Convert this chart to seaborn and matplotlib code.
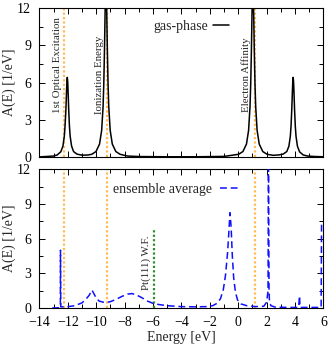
import numpy as np
import pandas as pd
import matplotlib
matplotlib.use("Agg")
import matplotlib.pyplot as plt
import seaborn as sns
from matplotlib.ticker import MultipleLocator

# ---------------- data ----------------
# gas-phase spectral function (top panel)
gas_E = [-14.0, -13.0, -12.75, -12.5, -12.35, -12.25, -12.2, -12.14, -12.1, -12.07, -12.04,
         -12.01, -11.98, -11.94, -11.89, -11.84, -11.74, -11.6, -11.35, -11.0, -10.6,
         -10.32, -10.02, -9.77, -9.62, -9.52, -9.47, -9.42, -9.38, -9.35, -9.32,
         -9.29, -9.26, -9.22, -9.17, -9.12, -9.02, -8.87, -8.62, -8.32, -7.8, -7.0,
         -5.0, -3.0, -1.0, 0.03, 0.33, 0.58, 0.73, 0.83, 0.88, 0.93, 0.97, 1.0, 1.03,
         1.06, 1.09, 1.13, 1.18, 1.23, 1.33, 1.48, 1.73, 2.03, 2.45, 2.87, 3.17, 3.42,
         3.57, 3.67, 3.72, 3.77, 3.81, 3.84, 3.87, 3.90, 3.93, 3.97, 4.02, 4.07,
         4.17, 4.32, 4.57, 4.87, 5.4, 6.0]
gas_A = [0.02, 0.09, 0.18, 0.43, 0.88, 1.69, 2.50, 3.78, 5.12, 6.03, 6.42,
         6.03, 5.12, 3.78, 2.50, 1.69, 0.90, 0.45, 0.24, 0.16, 0.17,
         0.23, 0.45, 1.05, 2.16, 4.07, 5.9, 8.7, 11.5, 13.3, 14.0,
         13.3, 11.5, 8.7, 5.9, 4.07, 2.16, 1.05, 0.45, 0.23, 0.09, 0.05,
         0.03, 0.03, 0.06, 0.23, 0.45, 1.05, 2.16, 4.07, 5.9, 8.7, 11.5, 13.3, 14.0,
         13.3, 11.5, 8.7, 5.9, 4.07, 2.16, 1.05, 0.45, 0.23, 0.15, 0.18, 0.25, 0.45,
         0.88, 1.69, 2.50, 3.78, 5.12, 6.03, 6.42, 6.03, 5.12, 3.78, 2.50, 1.69,
         0.88, 0.43, 0.18, 0.09, 0.05, 0.03]

# ensemble average (bottom panel)
ens_E = [-13.1, -12.6, -12.53, -12.52, -12.5, -12.4, -12.0, -11.5, -11.0, -10.7, -10.5,
         -10.3, -10.15, -10.0, -9.8, -9.5, -9.2, -9.0, -8.6, -8.2, -7.8, -7.5, -7.2,
         -6.8, -6.4, -6.0, -5.6, -5.0, -4.0, -3.0, -2.2, -1.8, -1.5, -1.25, -1.05,
         -0.9, -0.75, -0.65, -0.58, -0.5, -0.42, -0.32, -0.2, -0.05, 0.2, 0.6, 1.2,
         1.8, 2.0, 2.1, 2.13, 2.17, 2.2, 2.3, 2.6, 3.5, 4.25, 4.32, 4.35, 4.4,
         5.0, 5.84, 5.87, 5.9, 6.0]
ens_A = [0.0, 0.02, 0.1, 5.0, 0.1, 0.1, 0.12, 0.2, 0.45, 0.8, 1.1,
         1.55, 1.2, 0.85, 0.6, 0.5, 0.5, 0.55, 0.75, 1.0, 1.2, 1.25, 1.15,
         0.9, 0.6, 0.4, 0.3, 0.2, 0.12, 0.1, 0.12, 0.2, 0.4, 0.8, 1.6,
         2.8, 4.8, 6.8, 8.25, 7.0, 4.6, 2.6, 1.4, 0.7, 0.35, 0.2, 0.12,
         0.15, 0.5, 1.5, 14.0, 1.5, 0.6, 0.2, 0.08, 0.05, 0.05, 1.05, 0.05, 0.05,
         0.05, 0.05, 7.35, 7.35, 7.35]

# reference energies (eV)
markers_E = [-12.27, -9.22, 1.15]
markers_txt = ["1st Optical Excitation", "Ionization Energy", "Electron Affinity"]
wf_E = -5.93
wf_top = 6.9
wf_txt = "Pt(111) W.F."

x_ticks = [-14, -12, -10, -8, -6, -4, -2, 0, 2, 4, 6]
y_ticks = [0, 3, 6, 9, 12]

# ---------------- styling ----------------
sns.set_theme(style="ticks")
plt.rcParams["font.family"] = "serif"
plt.rcParams["font.serif"] = ["Liberation Serif", "DejaVu Serif"]
plt.rcParams["mathtext.fontset"] = "stix"

ORANGE = "#ffbb55"
GREEN = "#2f8f2f"
BLUE = "#1010ff"

fig = plt.figure(figsize=(3.29, 3.50), dpi=100)
ax1 = fig.add_axes([0.120, 0.551, 0.863, 0.426])
ax2 = fig.add_axes([0.120, 0.120, 0.863, 0.396])

gas = pd.DataFrame({"E": gas_E, "A": gas_A})
ens = pd.DataFrame({"E": ens_E, "A": ens_A})

for ax in (ax1, ax2):
    for e in markers_E:
        ax.axvline(e, color=ORANGE, lw=1.6, linestyle=(0, (1, 1)), zorder=1)

sns.lineplot(data=gas, x="E", y="A", ax=ax1, color="black", lw=1.1,
             sort=False, estimator=None, label="gas-phase", zorder=3)
sns.lineplot(data=ens, x="E", y="A", ax=ax2, color=BLUE, lw=1.1,
             linestyle=(0, (4.5, 2.5)), sort=False, estimator=None,
             label="ensemble average", zorder=3)
ax2.plot([wf_E, wf_E], [0, wf_top], color=GREEN, lw=1.6,
         linestyle=(0, (1, 1)), zorder=2)

# annotations
txt_pos = [(-12.7, 11.3), (-9.78, 9.8), (0.55, 9.6)]
for (tx, ty), t in zip(txt_pos, markers_txt):
    ax1.text(tx, ty, t, rotation=90, ha="center", va="top", fontsize=7.8)
ax2.text(-6.5, 6.3, wf_txt, rotation=90, ha="center", va="top", fontsize=7.8)

for ax in (ax1, ax2):
    ax.set_xlim(-14, 6)
    ax.set_ylim(0, 12)
    ax.set_yticks(y_ticks)
    ax.set_xticks(x_ticks)
    ax.xaxis.set_minor_locator(MultipleLocator(1))
    ax.yaxis.set_minor_locator(MultipleLocator(1.5))
    ax.tick_params(which="both", direction="in", top=True, right=True,
                   labelsize=10, width=0.7, colors="black")
    ax.tick_params(which="major", length=4.5, pad=6)
    ax.tick_params(which="minor", length=2.8)
    for s in ax.spines.values():
        s.set_linewidth(0.8)
        s.set_color("black")
    ax.set_ylabel("A(E) [1/eV]", fontsize=10, labelpad=1)

ax1.legend(loc="upper right", bbox_to_anchor=(0.70, 0.985), frameon=False,
           markerfirst=False, fontsize=10, handlelength=1.1,
           handletextpad=0.4, borderaxespad=0.3)
ax2.legend(loc="upper right", bbox_to_anchor=(0.745, 0.97), frameon=False,
           markerfirst=False, fontsize=10, handlelength=1.5,
           handletextpad=0.6, borderaxespad=0.3)

ax1.set_xlabel("")
ax1.tick_params(axis="x", labelbottom=False)
ax2.set_xlabel("Energy [eV]", fontsize=10, labelpad=1)

fig.savefig("out.png", dpi=100)
